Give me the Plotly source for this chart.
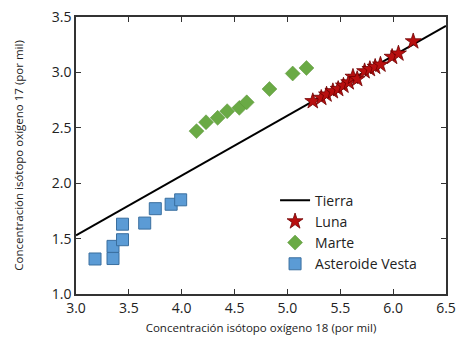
import plotly.graph_objects as go

tierra_x = [3.0, 6.5]
tierra_y = [1.53, 3.42]

luna_x = [5.24, 5.32, 5.37, 5.43, 5.48, 5.53, 5.58, 5.62, 5.66, 5.73, 5.78, 5.83, 5.88, 5.99, 6.05, 6.19]
luna_y = [2.74, 2.77, 2.80, 2.83, 2.85, 2.88, 2.91, 2.96, 2.94, 3.01, 3.03, 3.05, 3.07, 3.14, 3.17, 3.28]

marte_x = [4.14, 4.23, 4.34, 4.43, 4.545, 4.615, 4.83, 5.05, 5.18]
marte_y = [2.47, 2.55, 2.59, 2.65, 2.68, 2.73, 2.85, 2.99, 3.04]

vesta_x = [3.18, 3.35, 3.35, 3.44, 3.44, 3.65, 3.75, 3.90, 3.99]
vesta_y = [1.316, 1.32, 1.43, 1.49, 1.63, 1.64, 1.77, 1.81, 1.85]

x_ticks = [3.0, 3.5, 4.0, 4.5, 5.0, 5.5, 6.0, 6.5]
y_ticks = [1.0, 1.5, 2.0, 2.5, 3.0, 3.5]

FONT = "Open Sans"

fig = go.Figure()
fig.add_trace(go.Scatter(x=tierra_x, y=tierra_y, mode="lines", name="Tierra",
                         line=dict(color="black", width=2)))
fig.add_trace(go.Scatter(x=luna_x, y=luna_y, mode="markers", name="Luna",
                         marker=dict(symbol="star", size=12, color="#B80F0F",
                                     line=dict(color="#6E0000", width=0.8))))
fig.add_trace(go.Scatter(x=marte_x, y=marte_y, mode="markers", name="Marte",
                         marker=dict(symbol="diamond", size=11.5, color="#6AAA45",
                                     line=dict(color="#5A9238", width=0.5))))
fig.add_trace(go.Scatter(x=vesta_x, y=vesta_y, mode="markers", name="Asteroide Vesta",
                         marker=dict(symbol="square", size=12, color="#5B9BD5",
                                     line=dict(color="#3A6F9F", width=1))))

axis_common = dict(showline=True, linecolor="#333333", linewidth=1.5, mirror="ticks",
                   ticks="inside", ticklen=5, tickcolor="#333333", showgrid=False,
                   zeroline=False, automargin=False,
                   tickfont=dict(family=FONT, size=14, color="#222"))

fig.update_xaxes(range=[3.0, 6.5], tickvals=x_ticks, ticktext=[f"{v:.1f}" for v in x_ticks],
                 title=dict(text="Concentración isótopo oxígeno 18 (por mil)",
                            font=dict(family=FONT, size=11.5, color="#222"), standoff=8),
                 **axis_common)
fig.update_yaxes(range=[1.0, 3.5], tickvals=y_ticks, ticktext=[f"{v:.1f}" for v in y_ticks],
                 title=dict(text="Concentración isótopo oxígeno 17 (por mil)",
                            font=dict(family=FONT, size=11.5, color="#222"), standoff=26),
                 **axis_common)

fig.update_layout(width=458, height=338, margin=dict(l=76, r=12, t=17, b=44),
                  plot_bgcolor="white", paper_bgcolor="white",
                  legend=dict(x=0.538, y=0.395, xanchor="left", yanchor="top",
                              bgcolor="rgba(0,0,0,0)",
                              font=dict(family=FONT, size=14, color="#222"),
                              tracegroupgap=0))

fig.write_html("out.html", config={"displayModeBar": False},
               post_script="document.body.style.margin='0';document.body.style.padding='0';document.body.style.overflow='hidden';")
